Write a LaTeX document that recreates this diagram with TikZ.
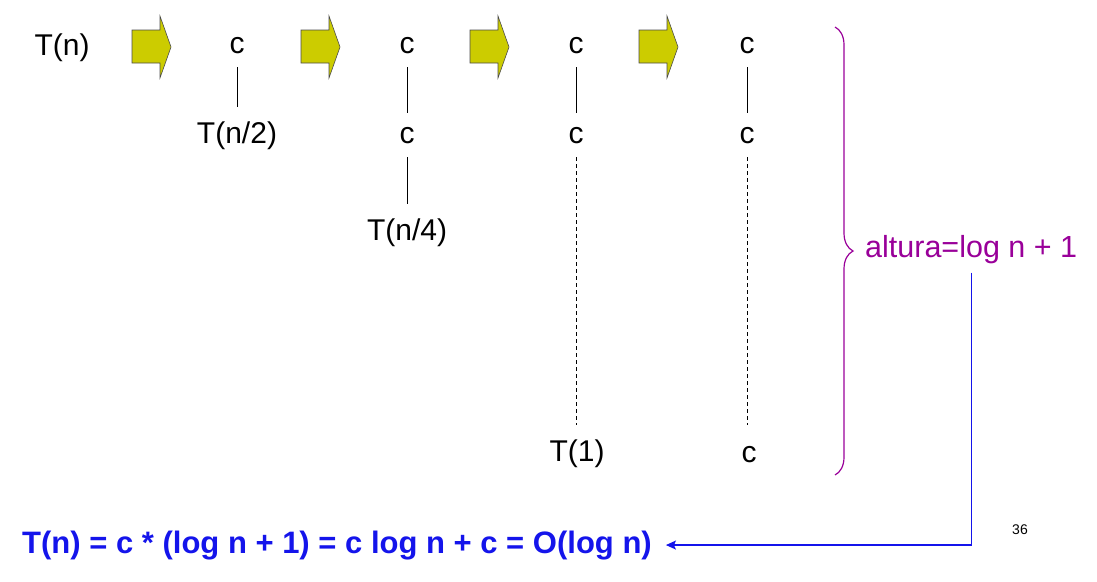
\documentclass[tikz,border=0pt]{standalone}
\usepackage{fontspec}
\setmainfont{Liberation Sans}
\usetikzlibrary{arrows.meta,decorations.pathreplacing}
\definecolor{olive1}{RGB}{204,204,0}
\definecolor{violet1}{RGB}{153,0,153}
\definecolor{blue1}{RGB}{20,20,235}

\begin{document}
\begin{tikzpicture}[x=1pt, y=-1pt,
  txt/.style={font=\fontsize{30}{36}\selectfont, inner sep=0pt, anchor=base},
  link/.style={line width=0.9pt, shorten <=14pt, shorten >=14pt},
  dlink/.style={link, dash pattern=on 4pt off 3pt},
  bigarrow/.style={fill=olive1, draw=black!70, line width=0.6pt}]
\useasboundingbox (0,0) rectangle (1097,581);
% Arrows
\foreach \x in {132,301,470,639}
  \draw[bigarrow] (\x,30) -- ++(28,0) -- ++(0,-14) -- ++(11,31) -- ++(-11,31) -- ++(0,-15) -- ++(-28,0) -- cycle;
% Nodes
\node[txt] (tn) at (62,55) {T(n)};
\node[txt] (c11) at (237,53) {c};
\node[txt] (t12) at (237,143) {T(n/2)};
\node[txt] (c21) at (407,53) {c};
\node[txt] (c22) at (407,143) {c};
\node[txt] (t23) at (407,240) {T(n/4)};
\node[txt] (c31) at (576,53) {c};
\node[txt] (c32) at (576,143) {c};
\node[txt] (t33) at (577,461) {T(1)};
\node[txt] (c41) at (747,53) {c};
\node[txt] (c42) at (747,143) {c};
\node[txt] (c43) at (749,462) {c};
\node[txt, anchor=base west, text=violet1, font=\fontsize{30.5}{36}\selectfont] (alt) at (865,257) {altura=log n + 1};
\node[txt, anchor=base west, text=blue1, font=\fontsize{31}{36}\selectfont\bfseries] (res) at (22,553) {T(n) = c * (log n + 1) = c log n + c = O(log n)};
\node[font=\fontsize{14}{16}\selectfont, inner sep=0pt] (page) at (1020,530) {36};
% Edges
\draw[link] (c11) -- (t12);
\draw[link] (c21) -- (c22);
\draw[link] (c22) -- (t23);
\draw[link] (c31) -- (c32);
\draw[link] (c41) -- (c42);
\draw[dlink] (c32) -- (c32 |- t33.north);
\draw[dlink, shorten >=21pt] (c42) -- (c42 |- c43.north);
\draw[violet1, line width=1.2pt, decorate, decoration={brace, amplitude=18pt}] (835,27) -- (835,475);
\draw[blue1, line width=1.2pt, shorten <=9pt, shorten >=14pt, -{Stealth[length=10pt, width=9pt, inset=2pt]}] (alt.south) |- (res.east);
\end{tikzpicture}
\end{document}
